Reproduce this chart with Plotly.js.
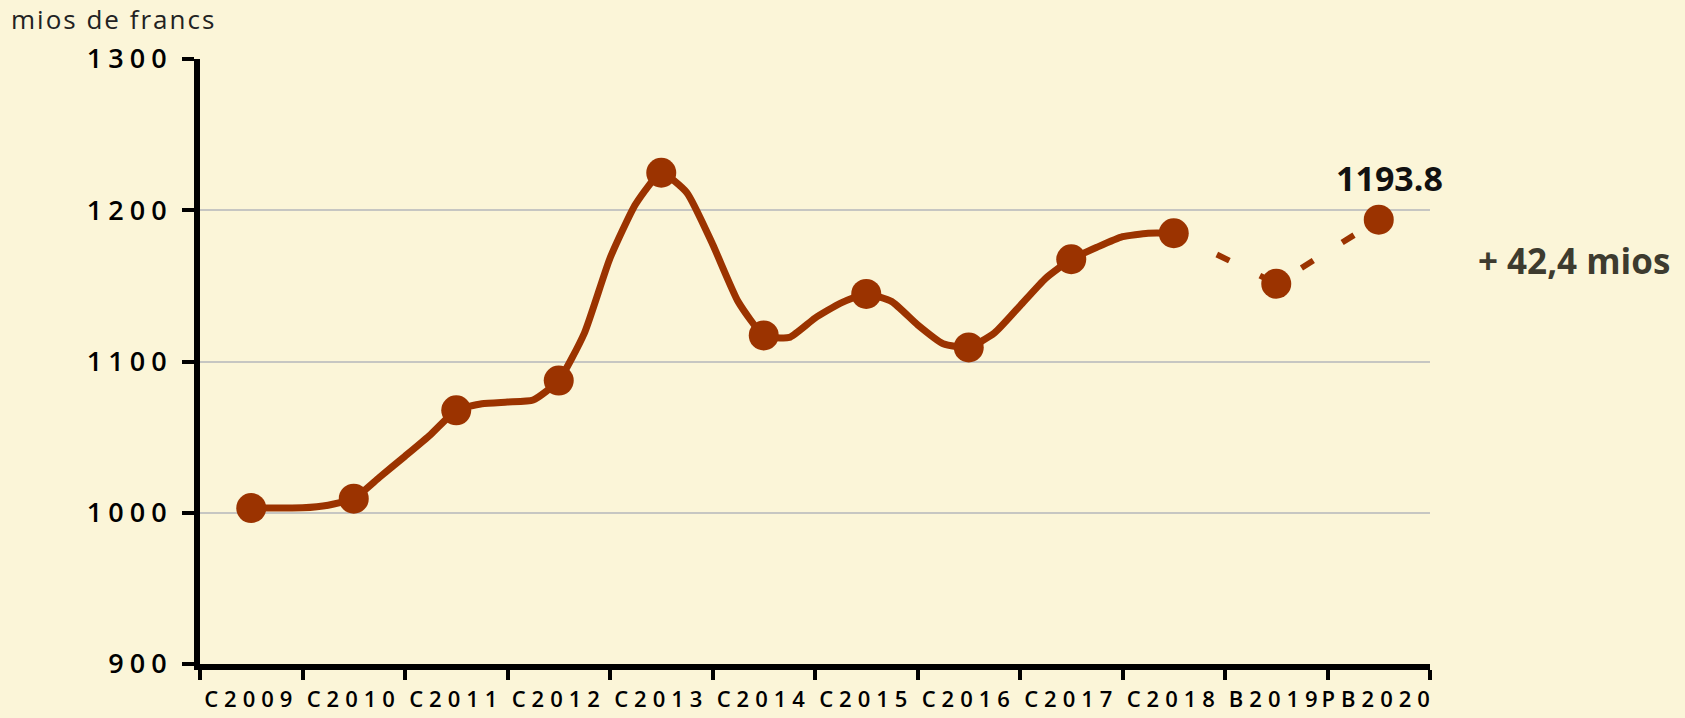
<!DOCTYPE html>
<html>
<head>
<meta charset="utf-8">
<script src="https://cdn.plot.ly/plotly-3.0.1.min.js"></script>
<style>
  html, body { margin: 0; padding: 0; background: #fbf5d8; }
  #chart { width: 1685px; height: 718px; }
  .xtick text { letter-spacing: 6px; }
  .ytick text { letter-spacing: 6px; }
  .gtitle { letter-spacing: 2px; }
</style>
</head>
<body>
<div id="chart"></div>
<script>
// ---- data ----
const categories = ["C2009","C2010","C2011","C2012","C2013","C2014","C2015","C2016","C2017","C2018","B2019","PB2020"];
const annualValues = [1003.1, 1009.3, 1067.7, 1087.4, 1224.8, 1117.2, 1144.7, 1109.3, 1167.6, 1184.8, 1151.4, 1193.8];
// quarterly path (C2009 .. C2018), four steps per year
const quarterlyValues = [
  1003.1, 1003.2, 1003.3, 1005.0,
  1009.3, 1023.4, 1037.4, 1051.7,
  1067.7, 1072.1, 1073.2, 1074.5,
  1087.4, 1118.8, 1168.3, 1204.1,
  1224.8, 1211.6, 1177.7, 1139.6,
  1117.2, 1115.9, 1128.7, 1138.6,
  1144.7, 1139.6, 1124.3, 1111.7,
  1109.3, 1118.8, 1136.8, 1155.0,
  1167.6, 1175.5, 1182.5, 1184.8,
  1184.8
];
const forecastCategories = ["C2018","B2019","PB2020"];
const yTicks = [900, 1000, 1100, 1200, 1300];
const unitLabel = "mios de francs";

// ---- derived ----
const catIndex = c => categories.indexOf(c);
const quarterlyX = quarterlyValues.map((v, i) => i / 4);
const forecastX = forecastCategories.map(catIndex);
const forecastY = forecastCategories.map(c => annualValues[catIndex(c)]);
const boundaries = categories.map((c, i) => i - 0.5).concat([categories.length - 0.5]);
const lastVal = annualValues[annualValues.length - 1];
const prevVal = annualValues[annualValues.length - 2];
const diffText = "+ " + (lastVal - prevVal).toFixed(1).replace(".", ",") + " mios";

const RED = "#9b3300";
const FONT = "'Open Sans', 'DejaVu Sans', sans-serif";

const traces = [
  {
    x: quarterlyX, y: quarterlyValues, type: "scatter", mode: "lines",
    line: { color: RED, width: 7, shape: "spline", smoothing: 0.5 }, hoverinfo: "skip"
  },
  {
    x: forecastX, y: forecastY, type: "scatter", mode: "lines",
    line: { color: RED, width: 6, dash: "14px,34px" }, hoverinfo: "skip"
  },
  {
    x: categories.map((c, i) => i), y: annualValues, type: "scatter", mode: "markers",
    marker: { color: RED, size: 30 }, text: categories, hoverinfo: "text+y"
  }
];

const layout = {
  width: 1685, height: 718,
  paper_bgcolor: "#fbf5d8", plot_bgcolor: "#fbf5d8",
  showlegend: false,
  margin: { l: 200, r: 255, t: 59, b: 54 },
  title: {
    text: unitLabel, x: 11 / 1685, xanchor: "left", xref: "container",
    y: 1 - 20 / 718, yanchor: "middle", yref: "container",
    font: { family: FONT, size: 26, color: "#222222" }
  },
  xaxis: {
    range: [-0.5, categories.length - 0.5],
    tickvals: categories.map((c, i) => i), ticktext: categories,
    ticks: "", showgrid: false, zeroline: false,
    showline: true, linecolor: "#000000", linewidth: 6,
    tickfont: { family: FONT, size: 22, color: "#000000", weight: 600 },
    ticklabelstandoff: 11,
    minor: { tickvals: boundaries, ticks: "outside", ticklen: 10, tickwidth: 4, tickcolor: "#000000", showgrid: false }
  },
  yaxis: {
    range: [900, 1300], tickvals: yTicks, ticktext: yTicks.map(String),
    ticks: "outside", ticklen: 12, tickwidth: 4, tickcolor: "#000000",
    showline: true, linecolor: "#000000", linewidth: 6,
    showgrid: true, gridcolor: "#c6c6c2", gridwidth: 2, zeroline: false,
    tickfont: { family: FONT, size: 27, color: "#000000", weight: 600 },
    ticklabelstandoff: 4
  },
  annotations: [
    {
      x: catIndex("PB2020"), y: lastVal, xref: "x", yref: "y",
      text: lastVal.toFixed(1), showarrow: false,
      xshift: 11, yshift: 42,
      font: { family: FONT, size: 34, color: "#111111", weight: 700 }
    },
    {
      x: (1476 - 200) / 1230, y: (665 - 261) / 606, xref: "paper", yref: "paper",
      xanchor: "left", yanchor: "middle",
      text: diffText, showarrow: false,
      font: { family: FONT, size: 35, color: "#3d3b2f", weight: 700 }
    }
  ]
};

Plotly.newPlot("chart", traces, layout, { displayModeBar: false, staticPlot: true });
</script>
</body>
</html>
